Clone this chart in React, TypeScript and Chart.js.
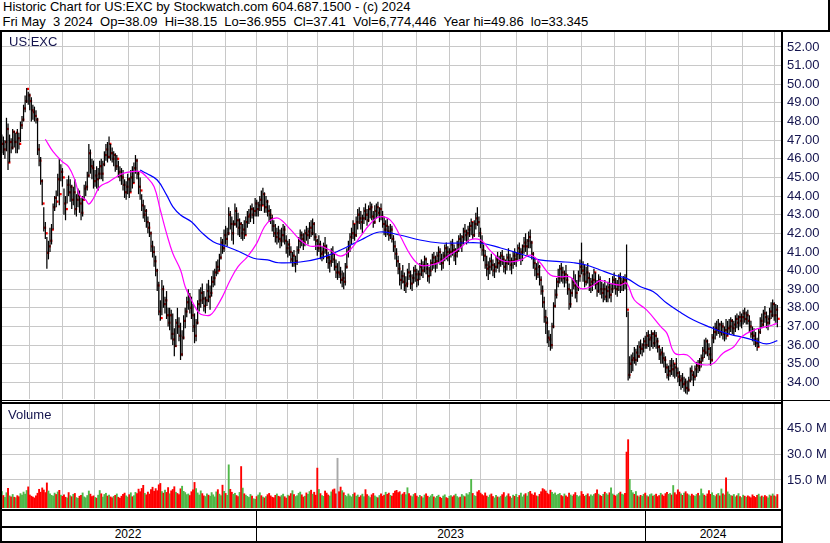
import React, { useEffect, useRef } from "react";
import { Chart, registerables } from "chart.js";

Chart.register(...registerables);

// ---------------- data (day index 0 = first trading day shown) ----------------
const highs = [
  47.3, 47.2, 47.0, 48.2, 47.9, 47.3, 47.1, 47.6, 47.5, 47.4,
  47.6, 47.4, 48.0, 48.3, 48.9, 49.4, 49.8, 49.6, 49.5, 49.3,
  48.9, 48.8, 48.6, 48.2, 46.8, 46.1, 44.9, 43.4, 42.6, 41.8,
  41.6, 42.3, 42.5, 43.6, 44.0, 44.3, 45.2, 46.0, 45.7, 45.5,
  44.4, 44.0, 44.9, 45.1, 44.9, 44.6, 44.5, 44.9, 44.1, 44.4,
  44.3, 43.9, 44.0, 44.6, 44.8, 45.3, 46.8, 46.5, 46.0, 45.9,
  45.4, 45.6, 45.5, 45.9, 46.0, 45.9, 46.4, 46.8, 46.9, 47.2,
  46.8, 46.6, 46.4, 46.3, 46.2, 45.9, 45.6, 45.5, 45.4, 44.9,
  44.8, 45.2, 45.0, 45.4, 45.6, 45.8, 46.2, 46.0, 45.3, 45.0,
  44.1, 43.8, 43.5, 43.3, 42.9, 42.6, 42.1, 41.6, 41.3, 40.8,
  40.1, 39.4, 38.4, 39.5, 39.2, 38.6, 38.9, 38.0, 38.0, 37.9,
  37.7, 36.9, 37.4, 38.0, 37.5, 37.2, 36.8, 37.6, 38.0, 38.6,
  39.0, 38.8, 38.6, 38.2, 37.7, 37.4, 38.4, 39.0, 39.1, 39.3,
  38.9, 38.6, 39.3, 39.5, 39.2, 39.7, 40.0, 40.1, 40.5, 40.6,
  40.9, 41.8, 41.7, 42.2, 42.4, 42.3, 43.4, 43.2, 42.9, 42.7,
  43.6, 43.4, 43.1, 42.8, 42.6, 42.5, 42.7, 42.9, 43.2, 43.3,
  43.5, 43.6, 43.4, 43.9, 43.8, 43.7, 44.0, 44.3, 44.45, 44.2,
  44.0, 43.8, 43.5, 43.3, 43.0, 42.7, 42.5, 42.3, 42.4, 42.2,
  42.3, 42.5, 42.4, 41.9, 41.6, 41.7, 41.3, 41.0, 41.1, 40.8,
  41.3, 41.8, 42.2, 42.1, 42.0, 42.2, 42.4, 42.3, 42.6, 42.7,
  42.8, 42.6, 42.0, 41.7, 41.9, 41.6, 41.3, 41.5, 41.8, 41.4,
  41.0, 40.8, 41.2, 41.3, 40.9, 40.6, 40.4, 40.5, 40.2, 40.0,
  39.9, 40.4, 41.2, 41.6, 42.0, 42.3, 42.7, 42.5, 42.9, 43.3,
  43.4, 43.2, 43.0, 43.4, 43.6, 43.3, 43.5, 43.7, 43.6, 43.2,
  43.5, 43.6, 43.7, 43.4, 43.6, 43.2, 42.9, 42.7, 42.8, 42.4,
  42.5, 42.4, 41.9, 41.6, 41.2, 40.8, 40.4, 40.0, 40.3, 39.9,
  39.7, 40.1, 40.4, 40.0, 39.8, 40.2, 40.3, 40.1, 40.0, 40.4,
  40.6, 40.5, 40.8, 40.7, 40.4, 40.2, 40.6, 40.9, 41.0, 40.8,
  41.0, 41.3, 41.2, 40.9, 41.0, 41.4, 41.5, 41.3, 41.2, 41.6,
  41.7, 41.4, 41.2, 41.6, 41.9, 42.0, 41.9, 42.3, 42.5, 42.2,
  42.4, 42.6, 42.8, 42.6, 42.7, 43.1, 43.4, 42.9, 42.3, 41.9,
  41.4, 41.1, 40.8, 40.5, 40.7, 40.9, 40.6, 40.4, 40.8, 41.0,
  40.8, 41.0, 41.1, 40.8, 40.6, 40.9, 41.2, 40.9, 40.7, 41.0,
  41.2, 41.0, 41.4, 41.5, 41.2, 41.4, 41.8, 42.0, 41.7, 42.1,
  42.2, 41.6, 41.0, 40.7, 40.4, 40.5, 40.3, 39.7, 39.2, 38.6,
  37.9, 37.5, 36.8, 36.6, 37.2, 38.3, 39.0, 39.6, 40.1, 40.3,
  40.4, 40.2, 40.0, 40.3, 39.8, 39.3, 39.0, 39.6, 40.0, 39.8,
  39.5, 40.0, 40.6, 41.5, 40.5, 40.3, 40.2, 40.4, 39.9, 39.6,
  39.8, 40.1, 39.9, 39.5, 39.8, 39.7, 39.4, 39.3, 39.5, 39.2,
  39.4, 39.6, 39.3, 39.7, 39.9, 39.6, 39.5, 39.8, 39.9, 39.6,
  39.7, 39.8, 41.4, 37.8, 35.4, 35.5, 35.6, 35.9, 35.8, 36.0,
  36.2, 36.3, 36.1, 36.4, 36.5, 36.7, 36.8, 36.6, 36.8, 36.7,
  36.8, 36.7, 36.4, 36.0, 35.8, 35.9, 35.6, 35.4, 35.0, 34.9,
  35.2, 35.3, 35.2, 35.0, 35.3, 34.8, 34.6, 34.4, 34.5, 34.3,
  34.2, 34.1, 34.3, 34.8, 34.9, 34.6, 34.9, 35.1, 35.2, 35.3,
  35.5, 35.9, 36.3, 36.4, 36.3, 36.1, 35.9, 36.6, 37.0, 37.2,
  37.3, 37.4, 37.2, 37.3, 37.2, 37.0, 37.4, 37.3, 37.4, 37.5,
  37.4, 37.3, 37.6, 37.7, 37.6, 37.8, 37.7, 37.9, 38.0, 37.8,
  37.9, 37.6, 37.3, 37.0, 36.9, 36.7, 36.4, 36.9, 37.5, 37.7,
  37.9, 38.1, 37.8, 37.6, 38.0, 38.3, 38.45, 38.3, 38.2, 38.15,
];

const lows = [
  46.3, 46.2, 46.0, 46.4, 45.4, 45.8, 46.3, 46.5, 46.6, 46.3,
  46.3, 46.5, 46.9, 47.6, 48.0, 48.5, 49.0, 48.9, 48.6, 48.0,
  48.1, 48.0, 47.9, 46.2, 45.6, 44.6, 43.5, 42.1, 41.7, 40.1,
  40.6, 41.0, 41.4, 42.2, 43.2, 43.4, 44.0, 43.5, 44.8, 44.5,
  43.0, 42.7, 43.6, 44.0, 43.7, 43.3, 43.5, 43.0, 42.9, 43.4,
  43.1, 42.7, 42.9, 43.8, 44.0, 44.3, 45.0, 45.2, 44.9, 44.4,
  44.5, 44.4, 44.3, 44.9, 44.9, 44.8, 45.6, 45.9, 45.8, 46.0,
  45.9, 45.8, 45.6, 45.3, 45.4, 45.0, 44.8, 44.6, 44.3, 43.9,
  43.8, 44.1, 43.9, 44.2, 44.4, 44.7, 45.2, 44.9, 44.1, 43.8,
  43.2, 42.8, 42.6, 42.3, 42.0, 41.8, 41.0, 40.7, 40.2, 39.7,
  38.9, 37.6, 37.3, 37.6, 38.0, 37.7, 37.4, 37.0, 36.8, 36.3,
  36.0, 35.4, 35.9, 36.6, 36.2, 35.2, 35.4, 36.3, 36.9, 37.5,
  37.9, 37.7, 37.4, 36.7, 36.1, 36.2, 37.1, 37.8, 38.0, 38.2,
  37.8, 37.7, 38.1, 38.3, 37.9, 38.6, 39.1, 39.2, 39.7, 39.8,
  40.0, 40.6, 40.9, 41.0, 41.4, 41.3, 41.9, 42.2, 41.6, 41.4,
  42.4, 42.3, 41.9, 41.8, 41.7, 41.6, 41.7, 41.9, 42.3, 42.5,
  42.6, 42.8, 42.5, 42.9, 42.9, 42.9, 43.2, 43.2, 43.5, 43.1,
  43.1, 42.9, 42.6, 42.5, 42.1, 41.8, 41.5, 41.4, 41.5, 41.2,
  41.3, 41.5, 41.4, 40.9, 40.7, 40.8, 40.4, 40.2, 40.2, 39.9,
  40.3, 40.9, 41.2, 41.3, 41.1, 41.3, 41.6, 41.4, 41.7, 41.8,
  41.9, 41.6, 41.1, 40.8, 41.0, 40.6, 40.5, 40.6, 40.9, 40.4,
  40.1, 39.9, 40.2, 40.4, 40.0, 39.6, 39.5, 39.6, 39.3, 39.1,
  39.0, 39.2, 40.1, 40.7, 41.0, 41.4, 41.7, 41.6, 41.8, 42.2,
  42.5, 42.2, 42.0, 42.5, 42.7, 42.4, 42.6, 42.8, 42.7, 42.3,
  42.5, 42.8, 42.9, 42.6, 42.7, 42.3, 41.9, 41.8, 41.9, 41.6,
  41.7, 41.5, 41.0, 40.6, 40.2, 39.8, 39.2, 39.0, 39.3, 38.9,
  38.8, 39.1, 39.5, 39.0, 38.9, 39.3, 39.4, 39.1, 39.2, 39.5,
  39.7, 39.6, 39.9, 39.8, 39.4, 39.3, 39.7, 40.0, 40.1, 39.9,
  40.1, 40.4, 40.3, 40.0, 40.1, 40.5, 40.6, 40.5, 40.3, 40.7,
  40.8, 40.5, 40.3, 40.7, 41.0, 41.2, 41.0, 41.4, 41.6, 41.4,
  41.5, 41.8, 41.9, 41.7, 41.8, 42.2, 42.4, 41.8, 41.2, 40.8,
  40.5, 40.1, 39.7, 39.5, 39.8, 40.0, 39.7, 39.6, 39.9, 40.1,
  39.9, 40.2, 40.3, 39.9, 39.8, 40.0, 40.3, 40.0, 39.8, 40.1,
  40.3, 40.2, 40.5, 40.6, 40.3, 40.5, 40.9, 41.0, 40.8, 41.2,
  41.2, 40.6, 40.1, 39.7, 39.5, 39.6, 39.2, 38.7, 38.0, 37.2,
  36.6, 36.1, 35.9, 35.7, 35.8, 36.9, 38.0, 38.5, 39.1, 39.3,
  39.4, 39.3, 39.1, 39.3, 38.7, 37.9, 38.0, 38.6, 39.0, 38.5,
  38.3, 38.9, 39.4, 39.8, 39.4, 39.1, 39.2, 39.3, 38.9, 38.8,
  38.9, 39.2, 39.0, 38.6, 38.8, 38.7, 38.5, 38.3, 38.4, 38.3,
  38.3, 38.5, 38.3, 38.8, 39.0, 38.7, 38.6, 38.9, 38.8, 38.9,
  38.9, 39.0, 37.5, 34.1, 34.2, 34.5, 34.6, 35.0, 34.9, 35.1,
  35.3, 35.5, 35.4, 35.6, 35.8, 35.8, 35.9, 35.7, 35.9, 35.8,
  35.9, 35.8, 35.6, 35.2, 35.0, 35.0, 34.8, 34.5, 34.2, 34.1,
  34.3, 34.4, 34.3, 34.2, 34.3, 34.0, 33.8, 33.6, 33.7, 33.5,
  33.4, 33.35, 33.5, 34.0, 34.1, 33.8, 34.1, 34.3, 34.5, 34.6,
  34.8, 35.1, 35.3, 35.5, 35.4, 35.2, 34.9, 35.1, 36.1, 36.3,
  36.5, 36.6, 36.4, 36.5, 36.3, 36.2, 36.3, 36.5, 36.6, 36.7,
  36.6, 36.5, 36.7, 36.9, 36.8, 37.0, 36.9, 37.1, 37.2, 37.1,
  37.1, 36.7, 36.4, 36.2, 36.0, 35.9, 35.7, 35.9, 36.6, 36.9,
  37.0, 37.2, 36.9, 36.8, 37.1, 37.4, 37.5, 37.3, 37.2, 36.955,
];

const closes = [
  46.8, 46.5, 46.9, 47.6, 45.8, 46.9, 46.6, 47.45, 46.9, 47.4,
  47.1, 46.8, 47.8, 48.1, 48.7, 49.1, 49.75, 49.4, 49.1, 48.6,
  48.5, 48.3, 48.1, 46.5, 45.9, 44.8, 43.6, 42.3, 42.0, 40.95,
  41.3, 41.6, 42.2, 43.4, 43.9, 43.7, 44.9, 44.1, 45.3, 45.0,
  43.6, 43.3, 44.6, 44.2, 44.5, 43.8, 44.2, 43.3, 43.8, 44.0,
  43.6, 43.1, 43.8, 44.4, 44.5, 45.1, 46.3, 45.6, 45.5, 44.8,
  45.1, 44.9, 45.2, 45.6, 45.2, 45.7, 46.2, 46.5, 46.1, 46.8,
  46.3, 46.0, 46.2, 45.6, 46.0, 45.3, 45.1, 45.0, 44.6, 44.2,
  44.5, 44.9, 44.2, 45.0, 44.7, 45.5, 45.9, 45.2, 44.5, 44.3,
  43.5, 43.0, 43.2, 42.6, 42.3, 42.0, 41.3, 41.0, 40.5, 40.0,
  39.2, 37.8, 37.45, 39.0, 38.2, 38.4, 37.6, 37.2, 37.6, 36.6,
  36.3, 35.95, 37.2, 37.0, 36.5, 35.5, 36.4, 37.3, 37.8, 38.3,
  38.6, 38.0, 37.6, 37.0, 36.5, 37.2, 38.2, 38.4, 38.8, 38.5,
  38.1, 38.4, 38.9, 38.6, 38.8, 39.4, 39.6, 39.9, 40.2, 40.0,
  40.7, 41.5, 41.2, 41.9, 41.7, 42.0, 43.0, 42.5, 42.0, 42.5,
  43.2, 42.7, 42.3, 42.5, 42.0, 42.2, 41.9, 42.6, 42.9, 43.0,
  43.3, 43.0, 43.2, 43.6, 43.3, 43.5, 43.8, 43.5, 44.1, 43.4,
  43.7, 43.2, 43.0, 42.8, 42.4, 42.0, 41.8, 42.0, 41.7, 41.6,
  41.9, 42.2, 41.6, 41.2, 41.4, 41.0, 40.6, 40.8, 40.4, 40.5,
  41.1, 41.6, 41.9, 41.7, 41.5, 42.0, 41.9, 42.1, 42.3, 42.0,
  42.5, 41.8, 41.6, 41.2, 41.4, 40.9, 41.0, 41.3, 41.1, 40.7,
  40.4, 40.5, 40.9, 40.6, 40.2, 39.9, 39.9, 39.8, 39.5, 39.6,
  39.4, 40.2, 41.0, 41.3, 41.8, 42.0, 42.5, 41.9, 42.6, 43.0,
  42.8, 42.6, 42.8, 43.2, 43.0, 42.7, 43.3, 43.4, 42.9, 42.6,
  43.2, 43.4, 43.1, 43.3, 42.9, 42.5, 42.2, 42.4, 42.1, 41.9,
  42.2, 41.7, 41.3, 40.9, 40.5, 40.1, 39.5, 39.7, 39.4, 39.2,
  39.3, 39.9, 39.7, 39.3, 39.6, 40.0, 39.8, 39.5, 39.8, 40.2,
  40.0, 40.3, 40.6, 40.1, 39.7, 40.0, 40.4, 40.7, 40.4, 40.5,
  40.8, 41.0, 40.6, 40.4, 40.8, 41.2, 41.0, 40.8, 41.0, 41.4,
  41.1, 40.8, 41.0, 41.4, 41.7, 41.5, 41.8, 42.1, 41.9, 42.0,
  42.2, 42.4, 42.6, 41.9, 42.5, 42.8, 42.6, 42.0, 41.5, 41.1,
  40.8, 40.3, 40.1, 40.2, 40.5, 40.3, 40.0, 40.2, 40.6, 40.4,
  40.5, 40.8, 40.6, 40.2, 40.4, 40.7, 40.5, 40.3, 40.5, 40.8,
  40.6, 40.9, 41.2, 40.9, 41.0, 41.3, 41.5, 41.3, 41.6, 41.8,
  41.5, 40.9, 40.4, 40.1, 39.8, 40.2, 39.5, 38.9, 38.3, 37.5,
  37.2, 36.4, 36.3, 36.0, 37.0, 38.1, 38.7, 39.4, 39.6, 40.1,
  39.9, 39.6, 39.8, 39.5, 39.0, 38.2, 38.8, 39.4, 39.2, 38.8,
  39.1, 39.7, 40.2, 40.0, 39.8, 39.4, 39.9, 39.6, 39.2, 39.4,
  39.5, 39.9, 39.3, 38.9, 39.5, 39.0, 38.8, 39.0, 38.6, 38.9,
  39.1, 38.7, 39.0, 39.5, 39.3, 39.0, 39.2, 39.6, 39.3, 39.4,
  39.5, 39.3, 37.9, 34.4, 35.0, 35.2, 35.3, 35.2, 35.6, 35.4,
  35.9, 35.8, 36.0, 36.2, 36.0, 36.5, 36.3, 36.4, 36.6, 36.1,
  36.5, 36.2, 35.9, 35.5, 35.6, 35.3, 35.2, 34.8, 34.4, 34.6,
  34.9, 34.7, 35.0, 34.8, 34.5, 34.3, 34.1, 34.2, 33.9, 34.0,
  33.7, 33.6, 34.1, 34.6, 34.4, 34.3, 34.7, 34.9, 34.8, 35.1,
  35.3, 35.7, 35.6, 36.2, 35.8, 35.5, 35.2, 36.4, 36.7, 36.9,
  36.8, 37.1, 36.7, 37.0, 36.6, 36.8, 36.5, 36.9, 37.0, 37.3,
  36.9, 37.1, 37.4, 37.2, 37.5, 37.3, 37.5, 37.7, 37.4, 37.6,
  37.3, 37.0, 36.6, 36.5, 36.3, 36.1, 35.9, 36.7, 37.3, 37.1,
  37.7, 37.5, 37.2, 37.4, 37.8, 37.6, 38.2, 37.6, 37.9, 37.41,
];

// volume in millions of shares
const volumes = [
  8.5, 6.2, 5.1, 7.8, 10.4, 6.0, 5.4, 6.8, 5.2, 4.9,
  6.1, 5.5, 7.3, 6.4, 8.2, 7.0, 9.1, 11.2, 6.5, 5.8,
  5.3, 4.8, 6.0, 7.5, 9.8, 8.1, 10.6, 9.4, 7.9, 13.5,
  8.8, 7.1, 6.3, 5.9, 7.6, 6.8, 8.3, 9.2, 6.4, 5.7,
  6.6, 5.2, 4.8, 7.9, 6.1, 5.5, 6.9, 7.4, 5.0, 4.6,
  5.8, 6.3, 7.7, 5.4, 4.9, 6.2, 8.8, 7.0, 5.6, 6.0,
  5.1, 4.7, 6.4, 9.1, 7.2, 5.3, 6.8, 7.5, 5.9, 6.5,
  5.4, 4.9, 5.7, 6.3, 7.1, 5.2, 4.6, 5.8, 6.9, 7.6,
  6.0, 5.3, 6.7, 7.8, 5.5, 6.1, 8.0, 7.3, 9.9, 8.4,
  10.3, 12.1, 7.5, 6.6, 8.2, 7.0, 9.6, 11.0, 8.7, 10.2,
  9.0, 12.4, 13.2, 8.5, 7.6, 9.3, 8.0, 10.8, 7.2, 8.9,
  9.7, 11.3, 8.1, 7.4, 6.8, 10.1, 11.6, 8.6, 7.9, 6.7,
  7.1, 6.2, 8.4, 9.5, 13.8, 10.2, 7.7, 6.5, 8.9, 7.3,
  6.0, 5.6, 7.2, 6.4, 5.8, 7.9, 6.6, 5.4, 8.3, 9.6,
  7.0, 6.1, 12.2, 8.6, 7.4, 6.3, 24.0, 9.8, 8.1, 6.9,
  7.5, 6.2, 5.5, 8.0, 23.0, 10.5, 7.2, 6.4, 5.7, 5.1,
  6.8, 5.9, 4.3, 4.0, 5.6, 6.5, 7.8, 6.1, 5.3, 4.8,
  5.5, 6.7, 7.4, 6.0, 5.2, 4.9, 6.3, 7.1, 5.8, 5.4,
  6.2, 7.0, 5.5, 4.7, 6.4, 5.9, 7.3, 9.0, 6.8, 5.6,
  6.1, 7.5, 8.2, 6.6, 5.3, 5.8, 7.7, 6.9, 8.5, 9.3,
  7.0, 8.1, 6.4, 22.1, 9.7, 7.3, 6.2, 5.7, 8.8, 7.6,
  6.5, 5.9, 8.3, 9.5, 10.0, 7.2, 27.8, 8.4, 11.1, 9.0,
  7.8, 6.3, 5.6, 7.1, 6.0, 5.4, 6.9, 7.7, 5.8, 6.5,
  5.2, 6.1, 7.0, 5.5, 9.6, 6.8, 5.9, 5.0, 6.6, 7.4,
  6.0, 5.3, 4.9, 6.2, 7.2, 5.7, 6.4, 8.1, 6.9, 7.6,
  6.3, 5.8, 7.5, 8.7, 9.2, 7.9, 8.4, 6.6, 7.1, 8.0,
  6.7, 10.7, 7.3, 6.0, 5.5, 6.8, 7.4, 5.9, 5.2, 6.3,
  5.6, 4.9, 6.5, 7.2, 5.8, 5.1, 6.0, 6.9, 5.4, 4.8,
  5.7, 6.4, 5.2, 4.6, 5.9, 6.6, 5.0, 4.5, 5.8, 6.2,
  5.4, 6.1, 7.0, 5.6, 4.9, 5.3, 6.8, 6.0, 5.5, 7.3,
  6.6, 8.0, 15.6, 7.4, 6.2, 5.7, 8.3, 9.1, 7.6, 6.8,
  6.1, 7.7, 5.9, 5.2, 6.5, 7.1, 5.6, 4.8, 6.3, 5.4,
  5.0, 5.8, 6.7, 7.9, 5.3, 6.0, 7.2, 5.5, 4.7, 6.4,
  5.7, 6.9, 5.1, 6.2, 7.6, 5.4, 6.6, 7.3, 5.9, 8.0,
  8.6, 7.1, 6.4, 7.8, 6.0, 5.5, 6.9, 8.4, 10.2, 9.6,
  8.8, 7.5, 6.8, 9.3, 8.1, 7.0, 7.7, 6.4, 6.9, 7.4,
  6.2, 5.6, 7.1, 6.0, 5.3, 7.6, 6.5, 5.8, 6.7, 7.9,
  6.3, 5.5, 6.0, 8.5, 6.9, 5.8, 6.4, 7.2, 5.6, 6.6,
  5.9, 6.8, 7.4, 9.5, 7.0, 6.2, 5.7, 6.9, 8.1, 7.3,
  6.5, 7.8, 10.6, 7.1, 6.4, 5.9, 6.7, 7.5, 8.2, 7.0,
  6.6, 7.4, 31.4, 38.6, 15.6, 9.2, 7.8, 6.9, 8.5, 6.0,
  5.4, 6.3, 5.8, 6.9, 7.6, 6.1, 5.5, 6.7, 7.2, 5.9,
  6.4, 7.0, 5.6, 6.2, 7.5, 6.6, 5.8, 7.3, 8.0, 6.9,
  7.4, 6.5, 12.0, 7.8, 6.7, 9.5, 8.2, 7.1, 6.3, 7.6,
  8.4, 7.2, 6.6, 5.9, 7.0, 6.2, 5.7, 6.8, 7.5, 6.1,
  10.0, 7.3, 6.4, 5.8, 7.1, 9.0, 6.9, 7.8, 6.3, 5.6,
  6.7, 7.4, 6.0, 10.0, 7.2, 6.5, 16.5, 8.3, 7.0, 6.2,
  5.9, 6.8, 5.4, 6.1, 7.3, 5.6, 5.0, 6.4, 5.8, 5.2,
  6.0, 5.5, 4.9, 6.6, 5.7, 5.1, 6.3, 7.0, 5.4, 5.9,
  5.3, 6.2, 5.6, 4.8, 6.5, 5.9, 7.1, 6.0, 5.5, 6.77,
];

// moving averages (day index, value)
const maShortDay = [
  28, 33, 39, 43, 47, 50, 54, 56, 59, 63, 69, 74, 78, 84, 89, 93, 98, 102, 106, 110,
  115, 118, 122, 127, 130, 134, 137, 142, 147, 152, 158, 164, 169, 173, 178, 186, 192, 198, 205, 211,
  218, 224, 231, 237, 243, 250, 256, 263, 269, 276, 282, 288, 295, 301, 308, 314, 321, 327, 334, 340,
  346, 353, 359, 366, 372, 379, 385, 391, 398, 402, 407, 415, 424, 428, 433, 441, 447, 454, 458, 464,
  471, 476, 484, 490, 496, 499,
];
const maShortVal = [
  47.05, 46.38, 45.84, 45.57, 44.86, 44.06, 43.79, 43.57, 43.88, 44.5, 44.77, 45.04, 45.22, 45.31, 45.31, 45.04, 44.5, 43.25, 42.0, 40.93,
  40.03, 39.13, 38.42, 37.71, 37.61, 37.61, 37.88, 38.6, 39.49, 40.21, 40.74, 41.46, 42.35, 42.71, 42.81, 42.18, 41.64, 41.32, 41.32, 41.1,
  40.78, 41.1, 41.86, 42.5, 42.88, 42.71, 41.91, 40.83, 40.3, 40.3, 40.46, 40.83, 41.21, 41.64, 41.64, 41.1, 40.57, 40.46, 40.57, 40.83,
  40.46, 39.76, 39.67, 39.64, 39.05, 39.13, 39.46, 39.32, 39.22, 39.32, 38.42, 37.88, 36.99, 36.63, 35.56, 35.47, 35.02, 34.93, 35.02, 35.56,
  35.91, 36.45, 36.81, 36.95, 37.08, 37.17,
];
const maLongDay = [
  89, 93, 100, 106, 110, 115, 122, 128, 136, 145, 153, 162, 171, 178, 192, 205, 218, 231, 243, 256,
  269, 282, 295, 308, 321, 334, 346, 359, 368, 376, 385, 394, 402, 411, 419, 428, 436, 445, 456, 466,
  475, 484, 492, 499,
];
const maLongVal = [
  45.4, 45.22, 44.86, 44.06, 43.43, 42.98, 42.62, 42.09, 41.55, 41.28, 41.01, 40.66, 40.57, 40.42, 40.46, 40.67, 41.1, 41.64, 42.07, 41.91,
  41.64, 41.48, 41.48, 41.48, 41.21, 40.89, 40.57, 40.48, 40.42, 40.3, 40.03, 39.76, 39.58, 39.13, 38.87, 38.24, 37.79, 37.35, 36.95, 36.63,
  36.45, 36.27, 36.06, 36.24,
];

const priceTicks = [34, 35, 36, 37, 38, 39, 40, 41, 42, 43, 44, 45, 46, 47, 48, 49, 50, 51, 52];
const volumeTicks = [15, 30, 45];
// first trading day of each month (day index) — vertical grid
const monthGrid = [
  18.1, 38.9, 59.5, 81.4, 101.3, 122.6, 143.8,
  164, 184, 203, 226, 245, 267, 288, 308, 331, 351, 373, 394,
  414.3, 435.7, 456.5, 476.5, 497.3,
];
const yearLabels = ["2022", "2023", "2024"];
const yearStarts = [0, 164, 414];

// ---------------- layout constants ----------------
const X_MIN = -1.16;
const X_MAX = 502;
const PLOT_W = 782;
const AXIS_W = 48;
const W = 830;
const PRICE_TOP = 32;
const PRICE_H = 367;
const VOL_TOP = 404;
const VOL_H = 104;
const P_MIN = 33.106;
const P_MAX = 52.805;
const V_MIN = -1.25;
const V_MAX = 59.1;

const GRID = "#c8c8c8";
const AXIS_TEXT = "#14144e";
const FONT = "'Liberation Sans', Arial, Helvetica, sans-serif";

const pxOf = (i: number) => ((i - X_MIN) / (X_MAX - X_MIN)) * PLOT_W;

function xScale(): any {
  return {
    type: "linear",
    min: X_MIN,
    max: X_MAX,
    offset: false,
    ticks: { display: false },
    grid: { color: GRID, drawTicks: false, offset: false, lineWidth: 1 },
    border: { display: false },
    afterBuildTicks: (s: any) => {
      s.ticks = monthGrid.map((v) => ({ value: v }));
    },
    afterFit: (s: any) => {
      s.height = 0;
      s.paddingLeft = 0;
      s.paddingRight = 0;
      s.paddingTop = 0;
      s.paddingBottom = 0;
    },
  };
}

function yScale(min: number, max: number, ticks: number[], fmt: (v: number) => string): any {
  return {
    type: "linear",
    position: "right",
    min,
    max,
    afterBuildTicks: (s: any) => {
      s.ticks = ticks.map((v) => ({ value: v }));
    },
    ticks: {
      callback: (v: any) => fmt(Number(v)),
      color: AXIS_TEXT,
      font: { size: 13, family: FONT },
      padding: 5,
      autoSkip: false,
    },
    grid: { color: GRID, drawTicks: false, lineWidth: 1 },
    border: { display: false },
    afterFit: (s: any) => {
      s.width = AXIS_W;
      s.paddingTop = 0;
      s.paddingBottom = 0;
      s.paddingLeft = 0;
      s.paddingRight = 0;
    },
  };
}

const baseOptions = {
  responsive: false,
  animation: false as const,
  devicePixelRatio: 1,
  events: [] as any[],
  layout: { padding: 0, autoPadding: false },
  plugins: { legend: { display: false }, tooltip: { enabled: false }, title: { display: false } },
};

export default function App() {
  const priceRef = useRef<HTMLCanvasElement | null>(null);
  const volRef = useRef<HTMLCanvasElement | null>(null);

  useEffect(() => {
    Chart.defaults.font.family = FONT;
    const days = closes.map((_, i) => i);

    const priceChart = new Chart(priceRef.current as HTMLCanvasElement, {
      type: "bar",
      data: {
        datasets: [
          {
            type: "line",
            label: "MA short",
            data: maShortDay.map((d, k) => ({ x: d, y: maShortVal[k] })),
            borderColor: "#ff00ff",
            borderWidth: 1.2,
            pointRadius: 0,
            tension: 0.4,
            order: 0,
          } as any,
          {
            type: "line",
            label: "MA long",
            data: maLongDay.map((d, k) => ({ x: d, y: maLongVal[k] })),
            borderColor: "#0000ff",
            borderWidth: 1.2,
            pointRadius: 0,
            tension: 0.4,
            order: 0,
          } as any,
          {
            type: "bar",
            label: "Range",
            data: days.map((i) => ({ x: i, y: [lows[i], highs[i]] })),
            backgroundColor: "#000000",
            borderWidth: 0,
            barThickness: 1.25,
            inflateAmount: 0,
            grouped: false,
            order: 1,
          } as any,
          {
            type: "line",
            label: "Close",
            data: days.map((i) => ({ x: i + 0.8, y: closes[i] })),
            showLine: false,
            pointStyle: "rect",
            pointRadius: 1.6,
            pointBorderWidth: 0,
            pointBackgroundColor: "#ff0000",
            order: 2,
          } as any,
        ],
      },
      options: {
        ...baseOptions,
        scales: {
          x: xScale(),
          y: yScale(P_MIN, P_MAX, priceTicks, (v) => v.toFixed(2)),
        },
      } as any,
    });

    const volColors = days.map((i) => {
      if (i === 0 || closes[i] > closes[i - 1]) return "#4fb848";
      if (closes[i] < closes[i - 1]) return "#ff0000";
      return "#a8a8a8";
    });

    const volChart = new Chart(volRef.current as HTMLCanvasElement, {
      type: "bar",
      data: {
        datasets: [
          {
            label: "Volume",
            data: days.map((i) => ({ x: i, y: [V_MIN, volumes[i]] })),
            backgroundColor: volColors,
            borderWidth: 0,
            barThickness: 1.9,
            inflateAmount: 0,
            grouped: false,
          } as any,
        ],
      },
      options: {
        ...baseOptions,
        scales: {
          x: xScale(),
          y: yScale(V_MIN, V_MAX, volumeTicks, (v) => v.toFixed(1) + " M"),
        },
      } as any,
    });

    return () => {
      priceChart.destroy();
      volChart.destroy();
    };
  }, []);

  const line = (left: number, top: number, width: number, height: number, key: string) => (
    <div key={key} style={{ position: "absolute", left, top, width, height, background: "#000" }} />
  );

  const dividers = yearStarts.slice(1).map((s) => Math.round(pxOf(s - 0.5) + 0.3));
  const segs = [0, ...dividers, 781];

  const textBase: React.CSSProperties = {
    position: "absolute",
    fontFamily: FONT,
    fontSize: 13,
    lineHeight: "15px",
    whiteSpace: "pre",
    margin: 0,
  };

  return (
    <div
      style={{
        position: "fixed",
        left: 0,
        top: 0,
        width: W,
        height: 543,
        background: "#fff",
        overflow: "hidden",
      }}
    >
      <div style={{ ...textBase, left: 3, top: -1, color: "#000" }}>
        Historic Chart for US:EXC by Stockwatch.com 604.687.1500 - (c) 2024
      </div>
      <div style={{ ...textBase, left: 2.5, top: 14, color: "#000" }}>
        {"Fri May  3 2024  Op=38.09  Hi=38.15  Lo=36.955  Cl=37.41  Vol=6,774,446  Year hi=49.86  lo=33.345"}
      </div>

      <canvas
        ref={priceRef}
        width={W}
        height={PRICE_H}
        style={{ position: "absolute", left: 0, top: PRICE_TOP, width: W, height: PRICE_H }}
      />
      <canvas
        ref={volRef}
        width={W}
        height={VOL_H}
        style={{ position: "absolute", left: 0, top: VOL_TOP, width: W, height: VOL_H }}
      />

      <div style={{ ...textBase, left: 9, top: 34, color: AXIS_TEXT }}>US:EXC</div>
      <div style={{ ...textBase, left: 8, top: 407, color: AXIS_TEXT }}>Volume</div>

      {yearLabels.map((lab, k) => (
        <div
          key={lab}
          style={{
            ...textBase,
            fontSize: 12,
            left: segs[k],
            width: segs[k + 1] - segs[k],
            textAlign: "center",
            top: 527,
            color: "#000",
          }}
        >
          {lab}
        </div>
      ))}

      {line(0, 30, W, 2, "top")}
      {line(828, 0, 2, 32, "corner")}
      {line(0, 30, 2, 513, "left")}
      {line(781, 30, 2, 513, "axis")}
      {line(0, 400, W, 1, "sep1")}
      {line(0, 402, 783, 2, "sep2")}
      {line(0, 509, 783, 2, "volbottom")}
      {line(0, 526, 783, 2, "rowline")}
      {line(0, 541, 783, 2, "bottom")}
      {dividers.map((d, k) => line(d, 511, 1, 30, "div" + k))}
    </div>
  );
}
